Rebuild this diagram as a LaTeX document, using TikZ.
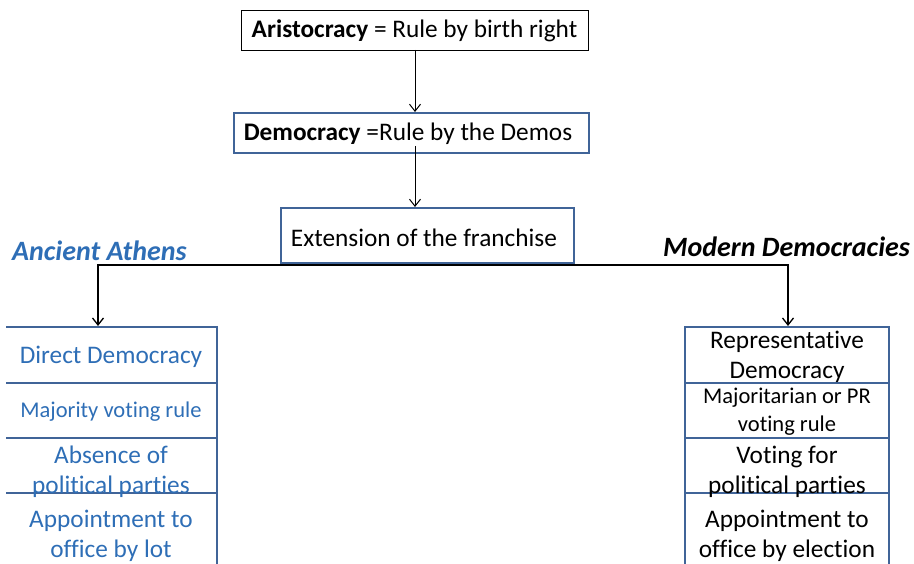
\documentclass[tikz,border=0pt]{standalone}
\usepackage{fontspec}
\setmainfont[Ligatures=NoCommon]{Carlito}
\usetikzlibrary{arrows.meta}
\definecolor{bordblue}{RGB}{64,100,152}
\definecolor{txtblue}{RGB}{46,110,182}
\begin{document}
\begin{tikzpicture}[x=1pt,y=-1pt,
  big/.style={font=\fontsize{25.3}{30}\selectfont,align=center,inner sep=0pt},
  mid/.style={font=\fontsize{22.5}{28}\selectfont,align=center,inner sep=0pt},
  blkbox/.style={draw=black,line width=0.9pt,inner sep=0pt},
  bluebox/.style={draw=bordblue,line width=2pt,inner sep=0pt},
  cell/.style={draw=bordblue,line width=2pt},
  conn/.style={draw=black,line width=1pt},
  arr/.style={conn,-{Straight Barb[length=7pt,width=11pt]}},
  lab/.style={font=\fontsize{28}{34}\selectfont\bfseries\itshape,inner sep=0pt,anchor=base west}
]
\useasboundingbox (0,0) rectangle (914,564);

% top boxes
\node[blkbox,minimum width=347pt,minimum height=40pt] (ari) at (414.5,30) {};
\node[big] (arit) at (414.5,31) {\textbf{Aristocracy} = Rule by birth right};
\node[bluebox,minimum width=355pt,minimum height=40pt] (dem) at (411.5,133) {};
\node[big] (demt) at (408,134) {\textbf{Democracy} =Rule by the Demos};
\node[bluebox,minimum width=293pt,minimum height=55pt] (ext) at (427.5,235.5) {};
\node[big] (extt) at (424,238) {Extension of the franchise};

% column labels
\node[lab,text=txtblue] (anc) at (12,261) {Ancient Athens};
\node[lab,text=black] (mod) at (663,257) {Modern Democracies};

% left column cells
\draw[cell] (6,327) -- (217,327);
\draw[cell] (6,383) -- (217,383);
\draw[cell] (6,438) -- (217,438);
\draw[cell] (6,493) -- (217,493);
\draw[cell] (217,326) -- (217,580);

% right column cells
\draw[cell] (685,327) rectangle (889,383);
\draw[cell] (685,383) rectangle (889,438);
\draw[cell] (685,438) rectangle (889,493);
\draw[cell] (685,493) rectangle (889,590);

\coordinate (atop) at (415,50);
\coordinate (ltop) at (98,326);
\coordinate (rtop) at (788,326);

% left texts
\node[big,text=txtblue] (l1) at (111,357) {Direct Democracy};
\node[mid,text=txtblue] (l2) at (111,412) {Majority voting rule};
\node[big,text=txtblue] (l3) at (111,472) {Absence of\\political parties};
\node[big,text=txtblue] (l4) at (111,536) {Appointment to\\office by lot};

% right texts
\node[big] (r1) at (787,357) {Representative\\Democracy};
\node[mid] (r2) at (787,412) {Majoritarian or PR\\voting rule};
\node[big] (r3) at (787,472) {Voting for\\political parties};
\node[big] (r4) at (787,536) {Appointment to\\office by election};

% connectors
\draw[arr] (atop) -- (atop |- dem.north);
\draw[arr] ([yshift=8pt]atop |- dem.south) -- (atop |- ext.north);
\coordinate (bus) at ([yshift=-1pt]ext.south);
\draw[arr,line width=1.3pt] (bus) -| (ltop);
\draw[arr,line width=1.3pt] (bus) -| (rtop);
\end{tikzpicture}
\end{document}
